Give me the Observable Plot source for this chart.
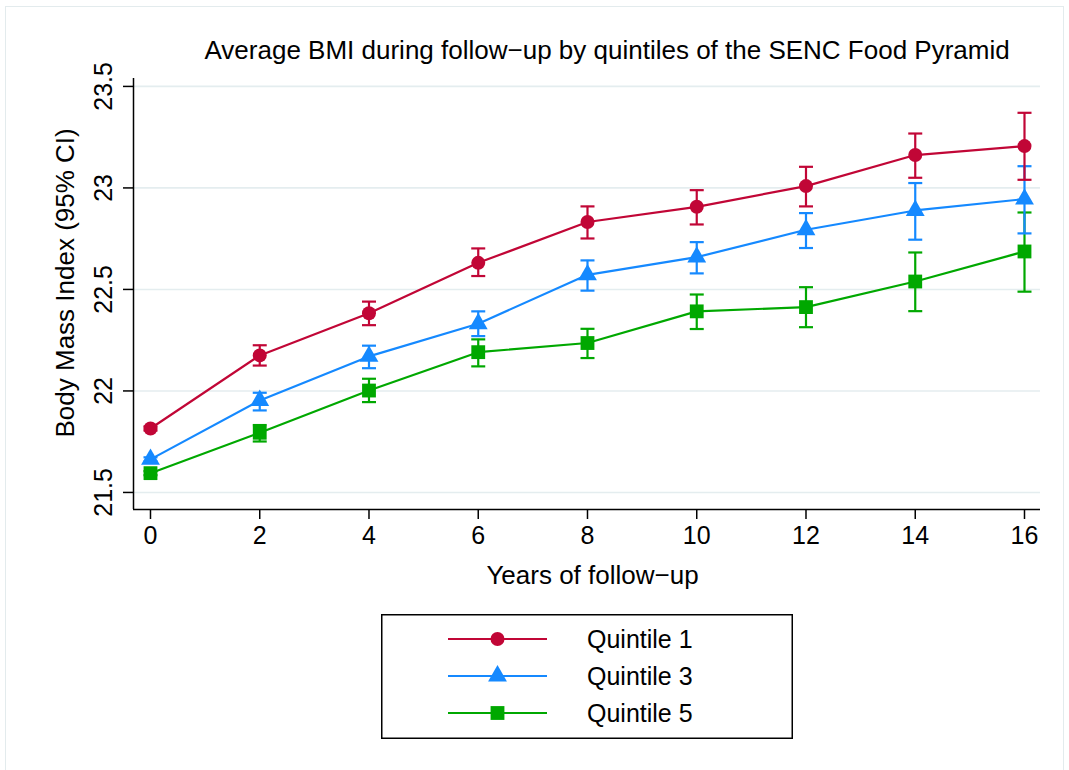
<!DOCTYPE html>
<html><head><meta charset="utf-8">
<script src="https://cdn.jsdelivr.net/npm/d3@7"></script>
<script src="https://cdn.jsdelivr.net/npm/@observablehq/plot@0.6"></script>
<style>
html,body{margin:0;padding:0;background:#fff;}
#wrap{position:relative;width:1069px;height:770px;overflow:hidden;font-family:"Liberation Sans",Arial,sans-serif;}
#border{position:absolute;left:5px;top:6px;width:1059px;height:800px;border:1.5px solid #e3ebed;box-sizing:border-box;}
#chart{position:absolute;left:0;top:0;}
#legend{position:absolute;left:381px;top:614px;overflow:visible;}
</style></head><body>
<div id="wrap"><div id="border"></div><div id="chart"></div><svg id="legend" width="412" height="125"></svg></div>
<script>
const years = [0, 2, 4, 6, 8, 10, 12, 14, 16];
const q1Mean = [21.815, 22.175, 22.383, 22.631, 22.832, 22.907, 23.009, 23.162, 23.206];
const q1Lo   = [21.805, 22.125, 22.324, 22.566, 22.751, 22.820, 22.909, 23.050, 23.040];
const q1Hi   = [21.825, 22.225, 22.440, 22.702, 22.909, 22.989, 23.104, 23.268, 23.370];
const q3Mean = [21.663, 21.953, 22.170, 22.331, 22.572, 22.659, 22.794, 22.889, 22.945];
const q3Lo   = [21.653, 21.904, 22.112, 22.270, 22.494, 22.579, 22.704, 22.745, 22.776];
const q3Hi   = [21.673, 21.991, 22.223, 22.392, 22.643, 22.733, 22.876, 23.024, 23.107];
const q5Mean = [21.595, 21.794, 22.002, 22.191, 22.236, 22.392, 22.413, 22.539, 22.687];
const q5Lo   = [21.585, 21.751, 21.945, 22.121, 22.162, 22.305, 22.314, 22.393, 22.489];
const q5Hi   = [21.605, 21.832, 22.060, 22.254, 22.306, 22.475, 22.511, 22.682, 22.879];
const seriesNames = ["Quintile 1", "Quintile 3", "Quintile 5"];
const seriesColors = ["#c10636", "#1589ff", "#00a800"];
const seriesSymbols = ["circle", "triangle", "square"];
const xTicks = [0, 2, 4, 6, 8, 10, 12, 14, 16];
const yTicks = [21.5, 22, 22.5, 23, 23.5];
const yTickLabels = ["21.5", "22", "22.5", "23", "23.5"];
const titleText = "Average BMI during follow\u2212up by quintiles of the SENC Food Pyramid";
const xLabel = "Years of follow\u2212up";
const yLabel = "Body Mass Index (95% CI)";

const seriesData = [[q1Mean, q1Lo, q1Hi], [q3Mean, q3Lo, q3Hi], [q5Mean, q5Lo, q5Hi]];
const rows = [];
seriesData.forEach(([m, lo, hi], s) => years.forEach((yr, i) =>
  rows.push({series: seriesNames[s], year: yr, mean: m[i], lo: lo[i], hi: hi[i]})));

const capSymbol = {draw(ctx, size) { const w = Math.sqrt(size / Math.PI); ctx.moveTo(-w, 0); ctx.lineTo(w, 0); }};
const markerR = [7, 7, 7.8];
const FONT = "'Liberation Sans', Arial, Helvetica, sans-serif";

const seriesMarks = [2, 1, 0].flatMap(s => {
  const d = rows.filter(r => r.series === seriesNames[s]);
  const c = seriesColors[s];
  return [
    Plot.ruleX(d, {x: "year", y1: "lo", y2: "hi", stroke: c, strokeWidth: 2.2}),
    Plot.dot(d, {x: "year", y: "lo", symbol: capSymbol, r: 7, stroke: c, strokeWidth: 2.2, fill: "none"}),
    Plot.dot(d, {x: "year", y: "hi", symbol: capSymbol, r: 7, stroke: c, strokeWidth: 2.2, fill: "none"}),
    Plot.line(d, {x: "year", y: "mean", stroke: c, strokeWidth: 2.2}),
    Plot.dot(d, {x: "year", y: "mean", symbol: seriesSymbols[s], r: markerR[s], fill: c, stroke: "none"})
  ];
});

const xDomain = [-0.311, 16.293];
const yDomain = [21.416, 23.539];

const chart = Plot.plot({
  width: 1069, height: 770,
  marginLeft: 133, marginRight: 29, marginTop: 78, marginBottom: 261,
  style: {fontFamily: FONT, fontSize: "25px", background: "transparent", color: "#000"},
  x: {domain: xDomain},
  y: {domain: yDomain},
  marks: [
    Plot.gridY(yTicks, {stroke: "#e4edef", strokeOpacity: 1, strokeWidth: 1.6}),
    Plot.axisX(xTicks, {tickSize: 10, tickPadding: 7, label: null, stroke: "#000", strokeWidth: 1.5, fontSize: 25, tickFormat: d => String(d)}),
    Plot.axisY(yTicks, {tickSize: 10, label: null, stroke: "#000", strokeWidth: 1.5, tickFormat: () => ""}),
    Plot.ruleX([xDomain[0]], {stroke: "#000", strokeWidth: 1.5}),
    Plot.ruleY([yDomain[0]], {stroke: "#000", strokeWidth: 1.5}),
    Plot.text(yTicks.map((v, i) => ({v, t: yTickLabels[i]})), {y: "v", text: "t", frameAnchor: "left", rotate: -90, textAnchor: "middle", lineAnchor: "bottom", dx: -22, fontSize: 25, fill: "#000"}),
    ...seriesMarks,
    Plot.text([titleText], {frameAnchor: "top-left", dx: 71, dy: -20, textAnchor: "start", lineAnchor: "bottom", fontSize: 26, fill: "#000"}),
    Plot.text([xLabel], {frameAnchor: "bottom", dx: 5.5, dy: 74, lineAnchor: "bottom", fontSize: 26, fill: "#000"}),
    Plot.text([yLabel], {frameAnchor: "left", rotate: -90, textAnchor: "start", lineAnchor: "bottom", dx: -60, dy: 143.5, fontSize: 26, fill: "#000"})
  ]
});
document.getElementById("chart").appendChild(chart);

// Legend
const lg = d3.select("#legend");
lg.append("rect").attr("x", 0.75).attr("y", 0.75).attr("width", 410.5).attr("height", 123.5)
  .attr("fill", "#fff").attr("stroke", "#000").attr("stroke-width", 1.5);
const symMap = {circle: d3.symbolCircle, triangle: d3.symbolTriangle, square: d3.symbolSquare};
seriesNames.forEach((name, s) => {
  const cy = 25 + s * 37;
  const g = lg.append("g");
  g.append("line").attr("x1", 67).attr("x2", 166).attr("y1", cy).attr("y2", cy)
    .attr("stroke", seriesColors[s]).attr("stroke-width", 2.2);
  g.append("path").attr("transform", `translate(116.5,${cy})`)
    .attr("d", d3.symbol(symMap[seriesSymbols[s]], Math.PI * markerR[s] * markerR[s])())
    .attr("fill", seriesColors[s]);
  g.append("text").attr("x", 206).attr("y", cy + 9).attr("font-family", FONT).attr("font-size", 25)
    .attr("fill", "#000").text(name);
});
</script>
</body></html>
